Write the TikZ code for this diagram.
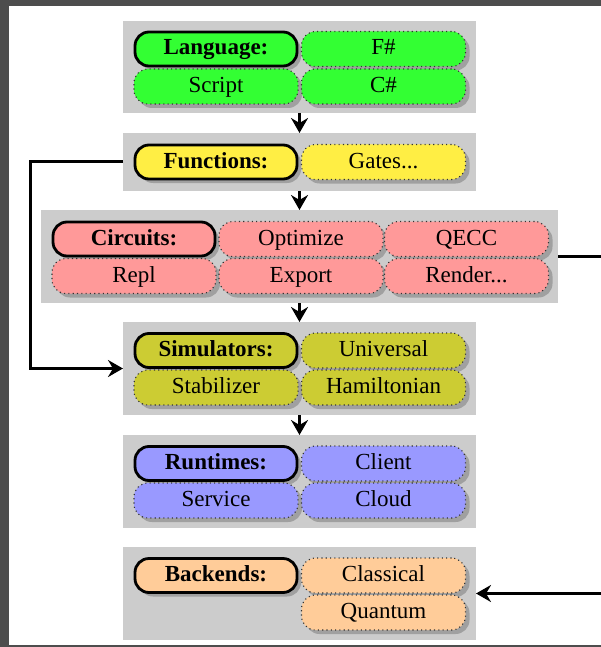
\documentclass[tikz,border=0pt]{standalone}
\usepackage{fontspec}
\setmainfont{Liberation Serif}
\usetikzlibrary{arrows.meta,shadows}
\definecolor{frameC}{RGB}{77,77,77}
\definecolor{bgC}{RGB}{204,204,204}
\definecolor{shC}{RGB}{160,160,160}
\definecolor{greenC}{RGB}{51,255,51}
\definecolor{yellowC}{RGB}{255,238,68}
\definecolor{pinkC}{RGB}{255,153,153}
\definecolor{oliveC}{RGB}{204,204,51}
\definecolor{blueC}{RGB}{153,153,255}
\definecolor{orangeC}{RGB}{255,204,153}
\begin{document}
\begin{tikzpicture}[x=1pt,y=-1pt,
  txt/.style={font=\fontsize{23}{27}\selectfont, text height=16pt, text depth=4pt, inner sep=0pt, outer sep=0pt},
  bgbox/.style={fill=bgC, draw=none, inner sep=0pt, outer sep=0pt, minimum width=353pt, minimum height=93pt},
  hdr/.style={txt, fill=#1, draw=black, line width=2.8pt, rounded corners=14pt,
    minimum width=162pt, minimum height=34pt, font=\bfseries\fontsize{23}{27}\selectfont,
    drop shadow={shadow xshift=4pt, shadow yshift=-4pt, fill=shC, opacity=1}},
  itm/.style={txt, fill=#1, draw=black!80, line width=1.1pt, dash pattern=on 1.1pt off 3.2pt, rounded corners=14pt,
    minimum width=164pt, minimum height=35pt,
    drop shadow={shadow xshift=4pt, shadow yshift=-4pt, fill=shC, opacity=1}},
  conn/.style={line width=3pt, draw=black},
  arr/.style={conn, -{Stealth[length=15pt, width=17pt, inset=5pt]}}
]
\path[use as bounding box] (0,0) rectangle (601,647);
\clip (0,0) rectangle (601,647);
\fill[frameC] (0,0) rectangle (601,647);
\fill[white] (9,6) rectangle (601,645);

% group backgrounds
\node[bgbox, minimum height=92pt] (lang) at (299.5,67) {};
\node[bgbox, minimum height=58pt] (func) at (299.5,162) {};
\node[bgbox, minimum width=517pt] (circ) at (299.5,256.5) {};
\node[bgbox] (sim) at (299.5,368.5) {};
\node[bgbox] (run) at (299.5,481.5) {};
\node[bgbox] (back) at (299.5,593.5) {};

% Language
\node[hdr=greenC] (language) at (216,49) {Language:};
\node[itm=greenC] (fsharp) at (383.5,49) {F\#};
\node[itm=greenC] (script) at (216,86.5) {Script};
\node[itm=greenC] (csharp) at (383.5,86.5) {C\#};

% Functions
\node[hdr=yellowC] (functions) at (216,162) {Functions:};
\node[itm=yellowC] (gates) at (383.5,162) {Gates...};

% Circuits
\node[hdr=pinkC] (circuits) at (134,239) {Circuits:};
\node[itm=pinkC] (optimize) at (301,239) {Optimize};
\node[itm=pinkC] (qecc) at (466.5,239) {QECC};
\node[itm=pinkC] (repl) at (134,276) {Repl};
\node[itm=pinkC] (export) at (301,276) {Export};
\node[itm=pinkC] (render) at (466.5,276) {Render...};

% Simulators
\node[hdr=oliveC] (simulators) at (216,350.5) {Simulators:};
\node[itm=oliveC] (universal) at (383.5,350.5) {Universal};
\node[itm=oliveC] (stabilizer) at (216,387.5) {Stabilizer};
\node[itm=oliveC] (hamiltonian) at (383.5,387.5) {Hamiltonian};

% Runtimes
\node[hdr=blueC] (runtimes) at (216,463.5) {Runtimes:};
\node[itm=blueC] (client) at (383.5,463.5) {Client};
\node[itm=blueC] (service) at (216,500.5) {Service};
\node[itm=blueC] (cloud) at (383.5,500.5) {Cloud};

% Backends
\node[hdr=orangeC] (backends) at (216,575.5) {Backends:};
\node[itm=orangeC] (classical) at (383.5,575.5) {Classical};
\node[itm=orangeC] (quantum) at (383.5,612.5) {Quantum};

% connectors
\draw[arr] (lang.south) -- (func.north);
\draw[arr] (func.south) -- (circ.north);
\draw[arr] (circ.south) -- (sim.north);
\draw[arr] (sim.south) -- (run.north);
\coordinate (leftturn) at (30,162);
\draw[arr] (func.west) -- (leftturn) |- (sim.west);
\coordinate (rightturn) at (640,256.5);
\draw[arr] (circ.east) -- (rightturn) |- (back.east);
\end{tikzpicture}
\end{document}
